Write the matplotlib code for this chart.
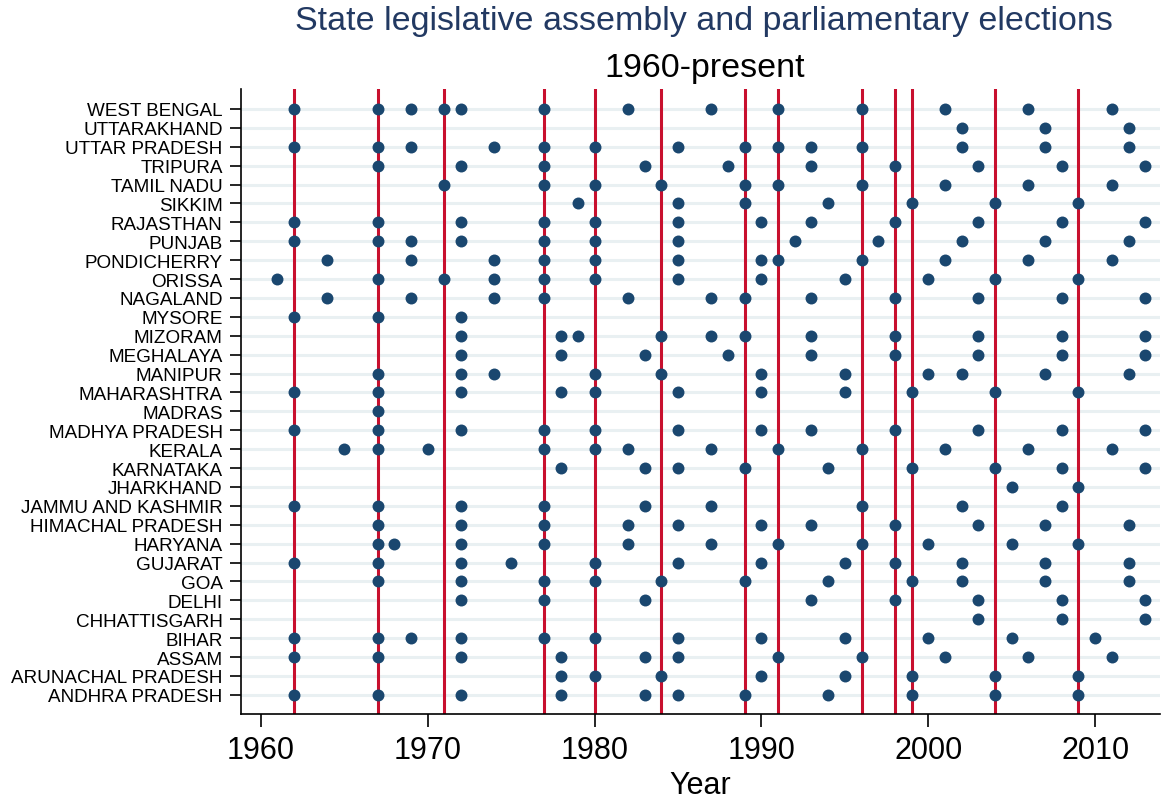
import matplotlib.pyplot as plt

plt.rcParams['font.family'] = ['Liberation Sans', 'DejaVu Sans']

# states from bottom to top
states = ['ANDHRA PRADESH', 'ARUNACHAL PRADESH', 'ASSAM', 'BIHAR', 'CHHATTISGARH',
          'DELHI', 'GOA', 'GUJARAT', 'HARYANA', 'HIMACHAL PRADESH',
          'JAMMU AND KASHMIR', 'JHARKHAND', 'KARNATAKA', 'KERALA', 'MADHYA PRADESH',
          'MADRAS', 'MAHARASHTRA', 'MANIPUR', 'MEGHALAYA', 'MIZORAM', 'MYSORE',
          'NAGALAND', 'ORISSA', 'PONDICHERRY', 'PUNJAB', 'RAJASTHAN', 'SIKKIM',
          'TAMIL NADU', 'TRIPURA', 'UTTAR PRADESH', 'UTTARAKHAND', 'WEST BENGAL']

# state election years, same order as states
years = [
    [1962, 1967, 1972, 1978, 1983, 1985, 1989, 1994, 1999, 2004, 2009],
    [1978, 1980, 1984, 1990, 1995, 1999, 2004, 2009],
    [1962, 1967, 1972, 1978, 1983, 1985, 1991, 1996, 2001, 2006, 2011],
    [1962, 1967, 1969, 1972, 1977, 1980, 1985, 1990, 1995, 2000, 2005, 2010],
    [2003, 2008, 2013],
    [1972, 1977, 1983, 1993, 1998, 2003, 2008, 2013],
    [1967, 1972, 1977, 1980, 1984, 1989, 1994, 1999, 2002, 2007, 2012],
    [1962, 1967, 1972, 1975, 1980, 1985, 1990, 1995, 1998, 2002, 2007, 2012],
    [1967, 1968, 1972, 1977, 1982, 1987, 1991, 1996, 2000, 2005, 2009],
    [1967, 1972, 1977, 1982, 1985, 1990, 1993, 1998, 2003, 2007, 2012],
    [1962, 1967, 1972, 1977, 1983, 1987, 1996, 2002, 2008],
    [2005, 2009],
    [1978, 1983, 1985, 1989, 1994, 1999, 2004, 2008, 2013],
    [1965, 1967, 1970, 1977, 1980, 1982, 1987, 1991, 1996, 2001, 2006, 2011],
    [1962, 1967, 1972, 1977, 1980, 1985, 1990, 1993, 1998, 2003, 2008, 2013],
    [1967],
    [1962, 1967, 1972, 1978, 1980, 1985, 1990, 1995, 1999, 2004, 2009],
    [1967, 1972, 1974, 1980, 1984, 1990, 1995, 2000, 2002, 2007, 2012],
    [1972, 1978, 1983, 1988, 1993, 1998, 2003, 2008, 2013],
    [1972, 1978, 1979, 1984, 1987, 1989, 1993, 1998, 2003, 2008, 2013],
    [1962, 1967, 1972],
    [1964, 1969, 1974, 1977, 1982, 1987, 1989, 1993, 1998, 2003, 2008, 2013],
    [1961, 1967, 1971, 1974, 1977, 1980, 1985, 1990, 1995, 2000, 2004, 2009],
    [1964, 1969, 1974, 1977, 1980, 1985, 1990, 1991, 1996, 2001, 2006, 2011],
    [1962, 1967, 1969, 1972, 1977, 1980, 1985, 1992, 1997, 2002, 2007, 2012],
    [1962, 1967, 1972, 1977, 1980, 1985, 1990, 1993, 1998, 2003, 2008, 2013],
    [1979, 1985, 1989, 1994, 1999, 2004, 2009],
    [1971, 1977, 1980, 1984, 1989, 1991, 1996, 2001, 2006, 2011],
    [1967, 1972, 1977, 1983, 1988, 1993, 1998, 2003, 2008, 2013],
    [1962, 1967, 1969, 1974, 1977, 1980, 1985, 1989, 1991, 1993, 1996, 2002, 2007, 2012],
    [2002, 2007, 2012],
    [1962, 1967, 1969, 1971, 1972, 1977, 1982, 1987, 1991, 1996, 2001, 2006, 2011],
]

# parliamentary (Lok Sabha) election years
national_years = [1962, 1967, 1971, 1977, 1980, 1984, 1989, 1991, 1996, 1998, 1999, 2004, 2009]

fig = plt.figure(figsize=(11.64, 8.04), dpi=100)
ax = fig.add_axes([0.2068, 0.111, 0.79, 0.777])

rows = range(1, len(states) + 1)
for r in rows:
    ax.axhline(r, color='#e9f0f2', lw=2.2, zorder=1)

for yr in national_years:
    ax.axvline(yr, color='#c8102e', lw=2.2, zorder=2)

for r, yrs in zip(rows, years):
    ax.plot(yrs, [r] * len(yrs), 'o', color='#1a476f', ms=8.6, mec='none', zorder=3)

ax.set_xlim(1958.8, 2013.9)
ax.set_ylim(0, 33.05)
ax.set_yticks(list(rows))
ax.set_yticklabels(states, fontsize=13.6)
ax.set_xticks([1960, 1970, 1980, 1990, 2000, 2010])
ax.tick_params(axis='x', labelsize=22, length=9, width=1.2, pad=6)
ax.tick_params(axis='y', length=8, width=1.2, pad=5)
ax.set_xlabel('Year', fontsize=22, labelpad=4)

for s in ['top', 'right']:
    ax.spines[s].set_visible(False)
for s in ['left', 'bottom']:
    ax.spines[s].set_linewidth(1.2)

fig.text(0.605, 0.9627, 'State legislative assembly and parliamentary elections',
         fontsize=24.5, color='#223962', ha='center', va='baseline')
fig.text(0.605, 0.9039, '1960-present', fontsize=24.5, color='black', ha='center', va='baseline')

plt.savefig('out.png', dpi=100)
